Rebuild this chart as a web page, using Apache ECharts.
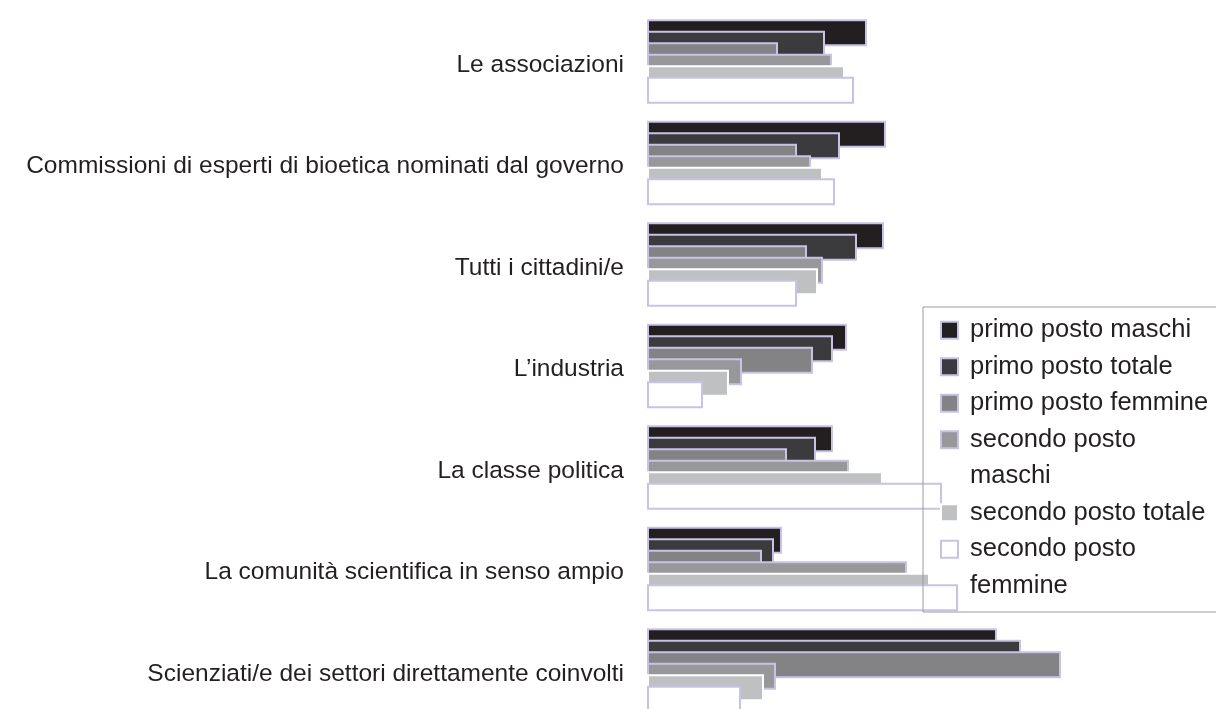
<!DOCTYPE html>
<html>
<head>
<meta charset="utf-8">
<style>
html,body{margin:0;padding:0;background:#fff;}
#chart{width:1216px;height:709px;}
</style>
<script src="https://cdn.jsdelivr.net/npm/echarts@6/dist/echarts.min.js"></script>
</head>
<body>
<div id="chart"></div>
<script>
const categories = [
  'Le associazioni',
  'Commissioni di esperti di bioetica nominati dal governo',
  'Tutti i cittadini/e',
  'L\u2019industria',
  'La classe politica',
  'La comunità scientifica in senso ampio',
  'Scienziati/e dei settori direttamente coinvolti'
];
const seriesNames = [
  'primo posto maschi',
  'primo posto totale',
  'primo posto femmine',
  'secondo posto maschi',
  'secondo posto totale',
  'secondo posto femmine'
];
const primoMaschi    = [22.0, 23.9, 23.7, 20.0, 18.6, 13.5, 35.0];
const primoTotale    = [17.8, 19.3, 21.0, 18.6, 16.9, 12.7, 37.4];
const primoFemmine   = [13.1, 15.0, 16.0, 16.6, 14.0, 11.5, 41.4];
const secondoMaschi  = [18.5, 16.4, 17.6,  9.5, 20.2, 26.0, 12.9];
const secondoTotale  = [19.8, 17.6, 17.1,  8.2, 23.6, 28.3, 11.7];
const secondoFemmine = [20.7, 18.8, 15.0,  5.6, 29.5, 31.1,  9.4];

const values = [primoMaschi, primoTotale, primoFemmine, secondoMaschi, secondoTotale, secondoFemmine];
const fills = ['#231f20', '#3b3a3c', '#838386', '#98989b', '#bfc0c2', '#ffffff'];
const borders = ['#c8c3e3', '#c8c3e3', '#c8c3e3', '#c8c3e3', '#ffffff', '#c8c3e3'];
const FONT = "'Liberation Sans', Arial, sans-serif";
const TEXT = '#231f20';

const chart = echarts.init(document.getElementById('chart'), null, {renderer: 'canvas'});
const twoLine = {
  'secondo posto maschi': ['secondo posto', 'maschi'],
  'secondo posto femmine': ['secondo posto', 'femmine']
};

const rich = {
  t: {fontSize: 25.5, fontFamily: FONT, color: TEXT, lineHeight: 36.5, padding: [0, 0, 0, 13]},
  sp: {width: 15, height: 15, lineHeight: 36.5}
};
seriesNames.forEach(function (n, i) {
  rich['s' + i] = {width: 15, height: 15, lineHeight: 36.5, backgroundColor: fills[i], borderColor: borders[i], borderWidth: 2};
});

chart.setOption({
  animation: false,
  backgroundColor: '#ffffff',
  grid: {left: 647, top: 10.75, height: 710.5, width: 500, containLabel: false, outerBoundsMode: 'none'},
  xAxis: {type: 'value', min: 0, max: 50, show: false},
  yAxis: {
    type: 'category',
    data: categories,
    inverse: true,
    axisLine: {show: false},
    axisTick: {show: false},
    splitLine: {show: false},
    axisLabel: {
      margin: 23,
      fontSize: 24.5,
      fontFamily: FONT,
      color: TEXT,
      verticalAlign: 'top',
      lineHeight: 7
    }
  },
  legend: {
    orient: 'vertical',
    left: 923,
    top: 307,
    padding: [5, 20, 8, 13],
    borderColor: '#9a9a9a',
    borderWidth: 1,
    backgroundColor: 'transparent',
    itemWidth: 1,
    itemHeight: 1,
    itemGap: 0,
    icon: 'rect',
    itemStyle: {opacity: 0, borderWidth: 0},
    selectedMode: false,
    textStyle: {fontSize: 25.5, fontFamily: FONT, color: TEXT, lineHeight: 36.5, rich: rich},
    formatter: function (name) {
      const i = seriesNames.indexOf(name);
      const parts = twoLine[name];
      if (parts) {
        return '{s' + i + '|}{t|' + parts[0] + '}\n{sp|}{t|' + parts[1] + '}';
      }
      return '{s' + i + '|}{t|' + name + '}';
    },
    data: seriesNames
  },
  series: seriesNames.map(function (name, i) {
    return {
      name: name,
      type: 'bar',
      data: values[i],
      barWidth: 27,
      barGap: '-57.4%',
      itemStyle: {color: fills[i], borderColor: borders[i], borderWidth: 2},
      emphasis: {disabled: true}
    };
  })
});
</script>
</body>
</html>
